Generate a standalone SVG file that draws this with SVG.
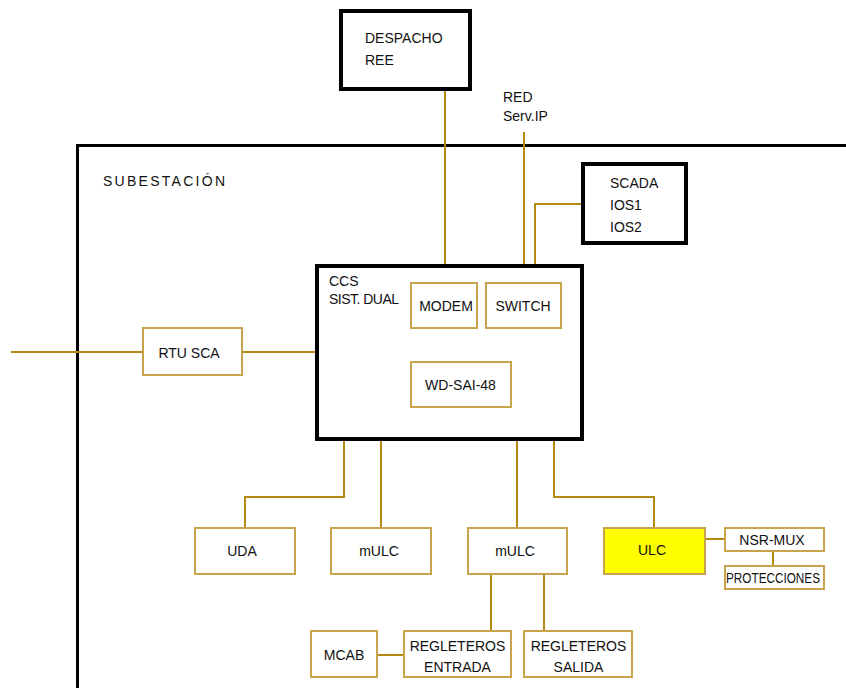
<svg xmlns="http://www.w3.org/2000/svg" width="846" height="688" viewBox="0 0 846 688">
<style>
text{font-family:"Liberation Sans",Arial,sans-serif;font-size:14px;fill:#111}
.c{text-anchor:middle}
.blk{fill:#fff;stroke:#000;stroke-width:4}
.box{fill:#fff;stroke:#c8a54c;stroke-width:2}
.conn path{fill:none;stroke:#b58a10;stroke-width:2}
</style>
<rect width="846" height="688" fill="#fff"/>
<g id="subestacion">
<path d="M846 145.5H77.5V688" fill="none" stroke="#000" stroke-width="3"/>
<text x="103" y="186" font-size="15" textLength="122" lengthAdjust="spacing">SUBESTACIÓN</text>
</g>
<g class="conn" id="connectors">
<path d="M445 91V283"/>
<path d="M524 132V283"/>
<path d="M535 283V204H583"/>
<path d="M11 352H143"/>
<path d="M242 352H317"/>
<path d="M344 441V497H245V528"/>
<path d="M381 441V528"/>
<path d="M517 441V528"/>
<path d="M554 441V497H654V528"/>
<path d="M705 539H725"/>
<path d="M773 551V566"/>
<path d="M491 574V631"/>
<path d="M544 574V631"/>
<path d="M377 655H404"/>
</g>
<g id="despacho"><rect class="blk" x="341" y="11" width="129" height="78"/><text x="365" y="43" font-size="14.5">DESPACHO</text><text x="365" y="65" font-size="14.5">REE</text></g>
<g id="red"><text x="503" y="102">RED</text><text x="503" y="121">Serv.IP</text></g>
<g id="scada"><rect class="blk" x="583" y="164" width="103" height="79"/><text x="610" y="188">SCADA</text><text x="610" y="210">IOS1</text><text x="610" y="232">IOS2</text></g>
<g id="ccs"><rect class="blk" x="317" y="266" width="265" height="173"/><text x="329" y="286">CCS</text><text x="329" y="304" font-size="10" textLength="70" lengthAdjust="spacing">SIST. DUAL</text></g>
<g id="modem"><rect class="box" x="411" y="283" width="66" height="45"/><text class="c" x="446" y="311">MODEM</text></g>
<g id="switch"><rect class="box" x="486" y="283" width="75" height="45"/><text class="c" x="523" y="311">SWITCH</text></g>
<g id="wdsai"><rect class="box" x="411" y="362" width="100" height="45"/><text class="c" x="460.5" y="390">WD-SAI-48</text></g>
<g id="rtu"><rect class="box" x="143" y="328" width="99" height="47"/><text class="c" x="189" y="358">RTU SCA</text></g>
<g id="uda"><rect class="box" x="195" y="528" width="100" height="46"/><text class="c" x="242" y="556">UDA</text></g>
<g id="mulc1"><rect class="box" x="331" y="528" width="100" height="46"/><text class="c" x="379" y="556">mULC</text></g>
<g id="mulc2"><rect class="box" x="468" y="528" width="99" height="46"/><text class="c" x="515" y="556">mULC</text></g>
<g id="ulc"><rect x="604" y="528" width="101" height="46" fill="#ffff00" stroke="#c8a54c" stroke-width="2"/><text class="c" x="652" y="555">ULC</text></g>
<g id="nsrmux"><rect class="box" x="725" y="528" width="99" height="23"/><text class="c" x="772" y="545">NSR-MUX</text></g>
<g id="protecciones"><rect class="box" x="725" y="566" width="99" height="23"/><text x="726" y="583" font-size="11" textLength="94" lengthAdjust="spacingAndGlyphs">PROTECCIONES</text></g>
<g id="mcab"><rect class="box" x="311" y="631" width="66" height="46"/><text class="c" x="344" y="660">MCAB</text></g>
<g id="regent"><rect class="box" x="404" y="631" width="107" height="46"/><text class="c" x="457.5" y="651">REGLETEROS</text><text class="c" x="457.5" y="672">ENTRADA</text></g>
<g id="regsal"><rect class="box" x="524" y="631" width="108" height="46"/><text class="c" x="578.5" y="651">REGLETEROS</text><text class="c" x="578.5" y="672">SALIDA</text></g>
</svg>
